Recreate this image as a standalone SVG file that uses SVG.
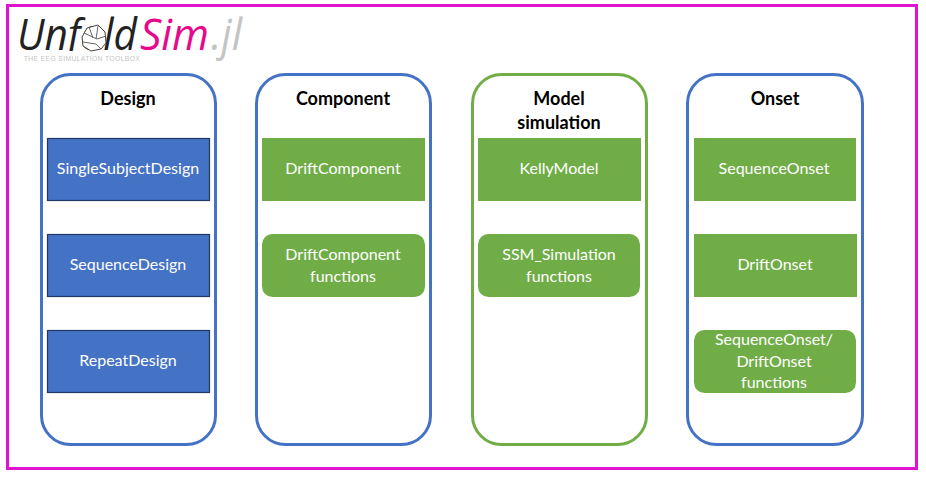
<svg xmlns="http://www.w3.org/2000/svg" width="926" height="477" viewBox="0 0 926 477">
<defs><clipPath id="logo-clip"><rect x="0" y="0" width="140" height="51"/></clipPath></defs>
<style>
text{font-family:"Lato","Open Sans","Liberation Sans",sans-serif;text-anchor:middle}
.title{font-size:18px;font-weight:700;fill:#000}
.lbl{font-size:16px;fill:#fff}
.col{fill:#fff;stroke-width:3px}
.b{stroke:#4472c4}.g{stroke:#70ad47}
.blue{fill:#4472c4;stroke:#1f3864;stroke-width:1.2px}
.green{fill:#70ad47}
.logo{font-family:"Open Sans","Liberation Sans",sans-serif;font-style:italic;font-weight:400;font-size:43px;text-anchor:start}
</style>
<rect width="926" height="477" fill="#fff"/>
<rect id="frame" x="7.500" y="5.500" width="909" height="463" fill="none" stroke="#e014d0" stroke-width="3"/>
<g id="logo">
<text class="logo" x="17" y="50" fill="#222" textLength="120" lengthAdjust="spacingAndGlyphs" clip-path="url(#logo-clip)">Unfold</text>
<text class="logo" x="140" y="50" fill="#e6098c" textLength="69" lengthAdjust="spacingAndGlyphs">Sim</text>
<text class="logo" x="211" y="50" fill="#c4c4c4" textLength="31" lengthAdjust="spacingAndGlyphs">.jl</text>
<g id="logo-icon"><path d="M82 37l5-9 11-3 7 7 1 11-5 6-10 2-8-5z" fill="#fff" stroke="#444" stroke-width="1"/><path d="M84 33l13 6 9-3M83 42l13 2 5 5M89 27l4 11M98 26l-2 13" fill="none" stroke="#666" stroke-width="1"/></g>
<text x="82" y="60.500" style="font-family:'Liberation Sans',sans-serif;font-size:6.800px;letter-spacing:.35px" fill="#c4c4c4">THE EEG SIMULATION  TOOLBOX</text>
</g>
<g id="design">
<rect class="col b" x="41.500" y="74.500" width="174" height="370" rx="29"/>
<text class="title" x="128" y="105">Design</text>
<g id="single-subject-design"><rect class="blue" x="47.500" y="138.500" width="162" height="62"/><text class="lbl" x="128" y="174">SingleSubjectDesign</text></g>
<g id="sequence-design"><rect class="blue" x="47.500" y="234.500" width="162" height="62"/><text class="lbl" x="128" y="270">SequenceDesign</text></g>
<g id="repeat-design"><rect class="blue" x="47.500" y="330.500" width="162" height="62"/><text class="lbl" x="128" y="366">RepeatDesign</text></g>
</g>
<g id="component">
<rect class="col b" x="256.500" y="74.500" width="174" height="370" rx="29"/>
<text class="title" x="343" y="105">Component</text>
<g id="drift-component"><rect class="green" x="262" y="138" width="163" height="63"/><text class="lbl" x="343" y="174">DriftComponent</text></g>
<g id="drift-component-functions"><rect class="green" x="262" y="234" width="163" height="63" rx="10.500"/><text class="lbl" x="343" y="260">DriftComponent</text><text class="lbl" x="343" y="282">functions</text></g>
</g>
<g id="model-simulation">
<rect class="col g" x="472.500" y="74.500" width="174" height="370" rx="29"/>
<text class="title" x="559" y="105">Model</text><text class="title" x="559" y="129">simulation</text>
<g id="kelly-model"><rect class="green" x="478" y="138" width="163" height="63"/><text class="lbl" x="559" y="174">KellyModel</text></g>
<g id="ssm-functions"><rect class="green" x="478" y="234" width="162" height="63" rx="10.500"/><text class="lbl" x="559" y="260">SSM_Simulation</text><text class="lbl" x="559" y="282">functions</text></g>
</g>
<g id="onset">
<rect class="col b" x="687.500" y="74.500" width="175" height="370" rx="29"/>
<text class="title" x="775" y="105">Onset</text>
<g id="sequence-onset"><rect class="green" x="694" y="138" width="162" height="63"/><text class="lbl" x="774" y="174">SequenceOnset</text></g>
<g id="drift-onset"><rect class="green" x="694" y="234" width="163" height="63"/><text class="lbl" x="775" y="270">DriftOnset</text></g>
<g id="onset-functions"><rect class="green" x="694" y="330" width="162" height="63" rx="10.500"/><text class="lbl" x="774" y="345">SequenceOnset/</text><text class="lbl" x="774" y="367">DriftOnset</text><text class="lbl" x="774" y="388">functions</text></g>
</g>
<g id="connectors"/>
</svg>
